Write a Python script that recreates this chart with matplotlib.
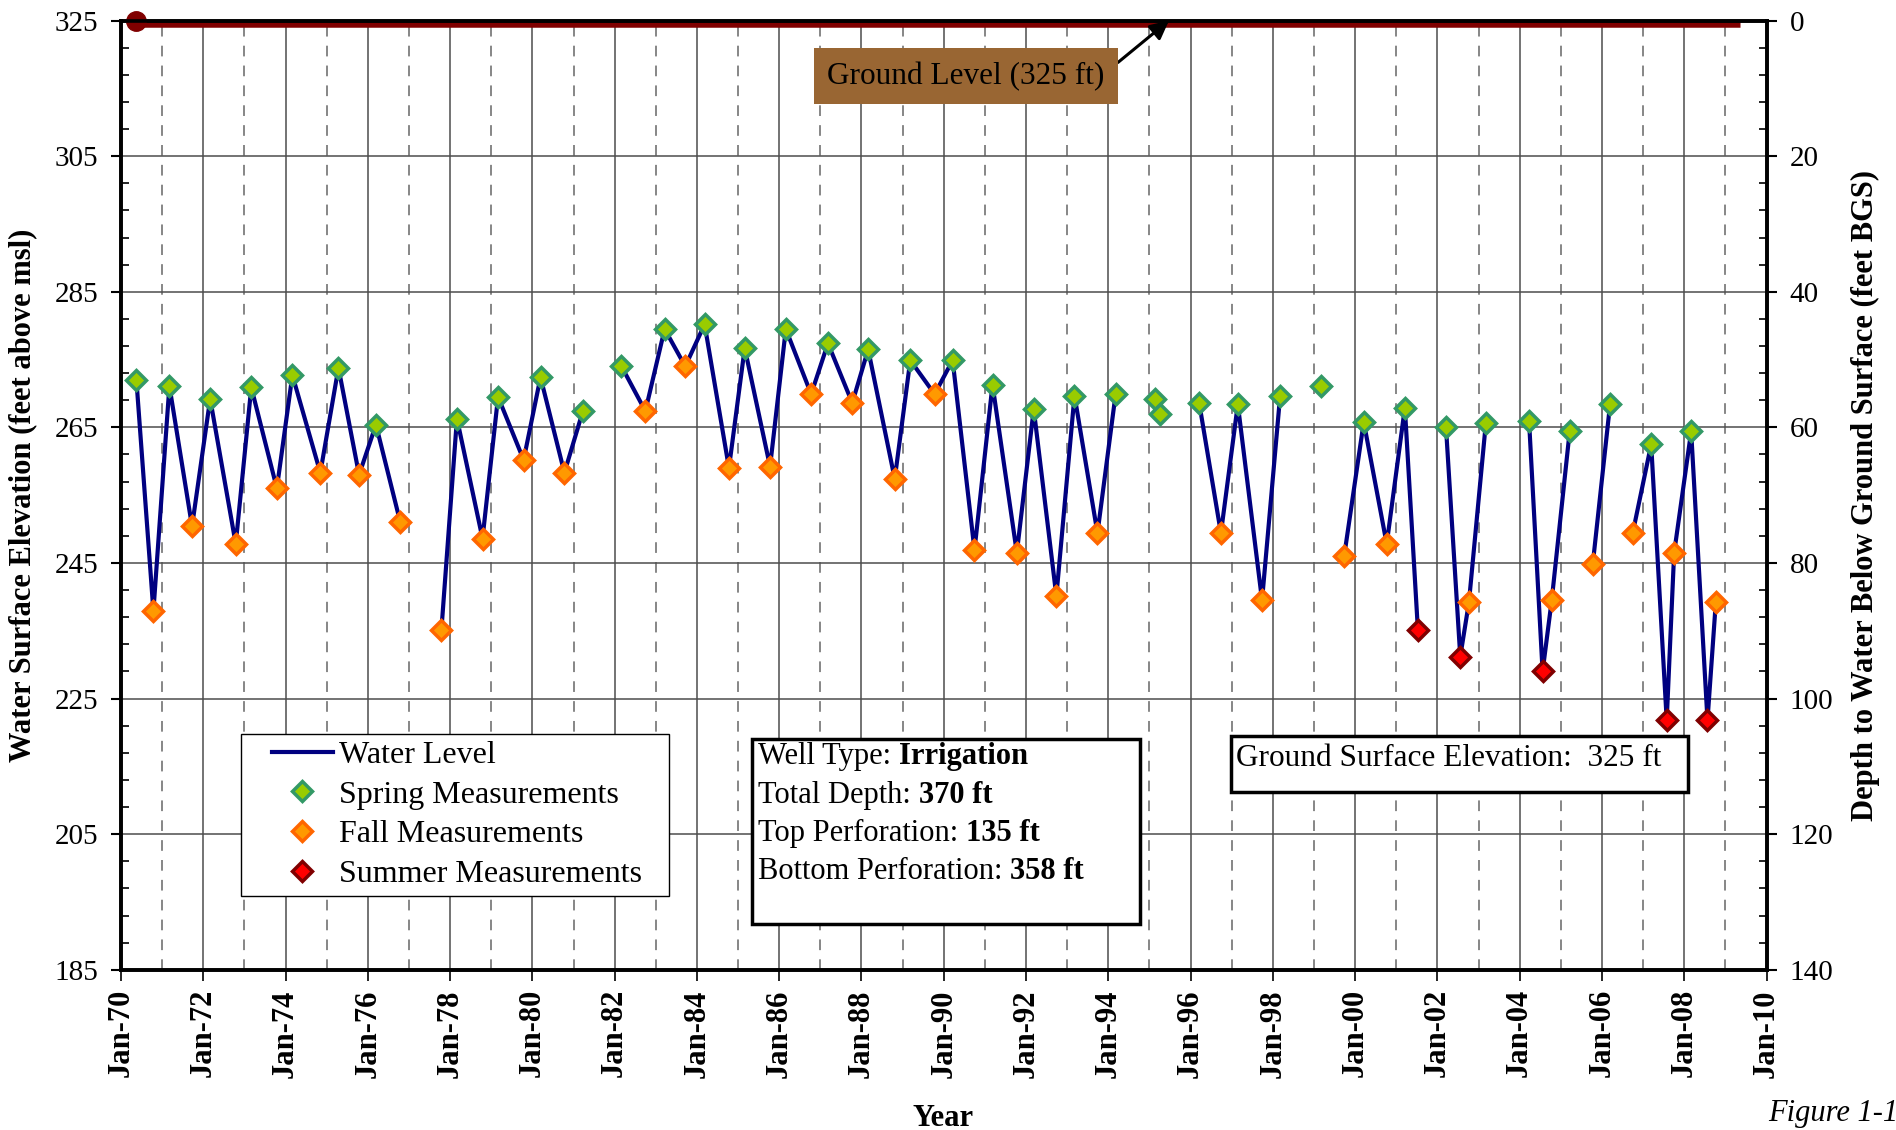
import numpy as np
import pandas as pd
import matplotlib
matplotlib.use('Agg')
import matplotlib.pyplot as plt
import matplotlib.dates as mdates
from matplotlib.patches import Rectangle
from matplotlib.ticker import MultipleLocator, FixedLocator

plt.rcParams['font.family'] = ['Liberation Serif', 'DejaVu Serif']

# readings: date, water surface elevation (ft msl), season
# S = spring, F = fall, U = summer; None = no reading (line breaks)
dates = [
    '1970-05-18', '1970-10-16', '1971-03-07', '1971-09-24', '1972-03-03', '1972-10-16',
    '1973-03-03', '1973-10-16', '1974-03-03', '1974-11-06', '1975-04-16', '1975-10-16',
    '1976-03-14', '1976-10-16', '1977-04-01',
    '1977-10-16', '1978-03-03', '1978-10-16', '1979-03-03', '1979-10-16', '1980-03-14',
    '1980-10-12', '1981-03-25', '1981-09-01',
    '1982-03-03', '1982-10-01', '1983-03-21', '1983-09-20', '1984-03-10', '1984-10-12',
    '1985-03-01', '1985-10-12', '1986-03-01', '1986-10-12', '1987-03-10', '1987-10-12',
    '1988-03-01', '1988-10-23', '1989-03-10', '1989-10-12', '1990-03-21', '1990-10-01',
    '1991-03-10', '1991-10-12', '1992-03-10', '1992-09-27', '1993-03-07', '1993-09-27',
    '1994-03-07', '1994-09-01',
    '1995-02-24', '1995-04-08', '1995-10-01',
    '1996-03-18', '1996-09-27', '1997-02-24', '1997-09-27', '1998-03-07', '1998-09-01',
    '1999-03-07', '1999-06-01',
    '1999-09-27', '2000-03-18', '2000-10-08', '2001-03-18', '2001-07-12', '2001-11-01',
    '2002-03-18', '2002-07-23', '2002-10-08', '2003-03-07', '2003-09-01',
    '2004-03-25', '2004-07-23', '2004-10-12', '2005-03-21', '2005-07-01',
    '2005-10-12', '2006-03-14', '2006-07-01',
    '2006-10-01', '2007-03-14', '2007-07-30', '2007-10-04', '2008-03-03', '2008-07-26',
    '2008-10-08',
]
elev = [
    272.0, 237.9, 271.1, 250.4, 269.2, 247.8,
    270.9, 256.0, 272.7, 258.3, 273.8, 258.0,
    265.4, 251.0, None,
    235.1, 266.3, 248.6, 269.5, 260.2, 272.4,
    258.3, 267.4, None,
    274.0, 267.4, 279.5, 274.0, 280.2, 259.0,
    276.7, 259.2, 279.5, 269.9, 277.4, 268.6,
    276.5, 257.4, 274.9, 269.9, 274.9, 246.9,
    271.3, 246.5, 267.7, 240.1, 269.7, 249.4,
    269.9, None,
    269.2, 267.0, None,
    268.6, 249.4, 268.4, 239.5, 269.7, None,
    271.1, None,
    246.1, 265.8, 247.8, 267.9, 235.1, None,
    265.1, 231.2, 239.2, 265.6, None,
    265.9, 229.0, 239.5, 264.5, None,
    244.9, 268.4, None,
    249.4, 262.5, 221.8, 246.5, 264.4, 221.8,
    239.2,
]
season = [
    'S', 'F', 'S', 'F', 'S', 'F',
    'S', 'F', 'S', 'F', 'S', 'F',
    'S', 'F', '',
    'F', 'S', 'F', 'S', 'F', 'S',
    'F', 'S', '',
    'S', 'F', 'S', 'F', 'S', 'F',
    'S', 'F', 'S', 'F', 'S', 'F',
    'S', 'F', 'S', 'F', 'S', 'F',
    'S', 'F', 'S', 'F', 'S', 'F',
    'S', '',
    'S', 'S', '',
    'S', 'F', 'S', 'F', 'S', '',
    'S', '',
    'F', 'S', 'F', 'S', 'U', '',
    'S', 'U', 'F', 'S', '',
    'S', 'U', 'F', 'S', '',
    'F', 'S', '',
    'F', 'S', 'U', 'F', 'S', 'U',
    'F',
]

ground_dates = ['1970-05-18', '2009-05-08']
ground_elev = [325, 325]

year_labels = ['Jan-70', 'Jan-72', 'Jan-74', 'Jan-76', 'Jan-78', 'Jan-80', 'Jan-82',
               'Jan-84', 'Jan-86', 'Jan-88', 'Jan-90', 'Jan-92', 'Jan-94', 'Jan-96',
               'Jan-98', 'Jan-00', 'Jan-02', 'Jan-04', 'Jan-06', 'Jan-08', 'Jan-10']

well_info = [('Well Type: ', 'Irrigation'),
             ('Total Depth: ', '370 ft'),
             ('Top Perforation: ', '135 ft'),
             ('Bottom Perforation: ', '358 ft')]

x = pd.to_datetime(dates)
y = np.array(elev, dtype=float)
season = np.array(season)

FS = 22
fig = plt.figure(figsize=(18.96, 11.30), dpi=100)
ax = fig.add_axes([0.0638, 0.1418, 0.8679, 0.840])

# ground level
gx = pd.to_datetime(ground_dates)
ax.plot(gx, ground_elev, color='#800000', lw=9, solid_capstyle='butt', zorder=2)
ax.plot(gx[:1], ground_elev[:1], 'o', color='#800000', ms=14, clip_on=False, zorder=6)

# water level and measurements
ax.plot(x, y, color='#000080', lw=3, label='Water Level', zorder=3)
styles = [('S', 'Spring Measurements', '#99CC00', '#339966'),
          ('F', 'Fall Measurements', '#FF9900', '#FF6600'),
          ('U', 'Summer Measurements', '#FF0000', '#800000')]
for key, lab, fc, ec in styles:
    m = season == key
    ax.plot(x[m], y[m], ls='none', marker='D', ms=10.5, mfc=fc, mec=ec, mew=2.5,
            label=lab, zorder=4)

# axes limits / ticks
ax.set_xlim(pd.Timestamp('1970-01-01'), pd.Timestamp('2010-01-01'))
ax.set_ylim(185, 325)
ticks = [mdates.date2num(pd.Timestamp(1970 + 2 * i, 1, 1)) for i in range(len(year_labels))]
odd = [mdates.date2num(pd.Timestamp(yr, 1, 1)) for yr in range(1971, 2010, 2)]
ax.xaxis.set_major_locator(FixedLocator(ticks))
ax.set_xticklabels(year_labels, rotation=90, fontsize=FS, fontweight='bold')
ax.xaxis.set_minor_locator(FixedLocator(odd))
ax.yaxis.set_major_locator(MultipleLocator(20, offset=5))
ax.yaxis.set_minor_locator(MultipleLocator(4, offset=1))
ax.tick_params(axis='y', which='major', direction='out', length=7.2, width=1.5,
               labelsize=FS - 1, pad=9)
ax.tick_params(axis='y', which='minor', direction='in', length=5.8, width=1.2)
ax.tick_params(axis='x', which='major', direction='out', length=8, width=1.2, pad=6)
ax.tick_params(axis='x', which='minor', length=0)

ax.grid(which='major', color='#4d4d4d', lw=1.1)
ax.xaxis.grid(which='minor', color='#666666', lw=1.1, ls=(0, (7, 6)))
for s in ax.spines.values():
    s.set_linewidth(2.6)

ax.set_ylabel('Water Surface Elevation (feet above msl)', fontsize=FS, fontweight='bold')
ax.yaxis.set_label_coords(-0.051, 0.5)

ax2 = ax.twinx()
ax2.set_ylim(140, 0)
ax2.yaxis.set_major_locator(MultipleLocator(20))
ax2.yaxis.set_minor_locator(MultipleLocator(4))
ax2.tick_params(axis='y', which='major', direction='out', length=7.2, width=1.5,
                labelsize=FS - 1, pad=9.5)
ax2.tick_params(axis='y', which='minor', direction='in', length=5.8, width=1.2)
for s in ax2.spines.values():
    s.set_linewidth(2.6)
ax2.set_ylabel('Depth to Water Below Ground Surface (feet BGS)', fontsize=FS,
               fontweight='bold')
ax2.yaxis.set_label_coords(1.051, 0.5)

# ground level callout
ax.annotate('Ground Level (325 ft)', xy=(pd.Timestamp('1995-06-24'), 325),
            xytext=(pd.Timestamp('1990-07-19'), 316.8), ha='center', va='center',
            fontsize=FS + 0.5, zorder=7,
            bbox=dict(boxstyle='square,pad=0.42', fc='#996633', ec='none'),
            arrowprops=dict(arrowstyle='-|>', color='black', lw=2.2, mutation_scale=28,
                            shrinkA=0, shrinkB=0, relpos=(1.0, 0.6)))

# legend with its own white frame
fig.add_artist(Rectangle((0.1271, 0.2071), 0.2257, 0.1434, transform=fig.transFigure,
                         fc='white', ec='black', lw=1.0, zorder=1))
h, l = ax.get_legend_handles_labels()
fig.legend(h, l, loc='upper left', bbox_to_anchor=(0.1435, 0.3445), frameon=False,
           borderpad=0, borderaxespad=0, fontsize=FS + 1, handlelength=1.9,
           handletextpad=0.2, labelspacing=0.32)

# well information box
fig.add_artist(Rectangle((0.3966, 0.1823), 0.2046, 0.1637, transform=fig.transFigure,
                         fc='white', ec='black', lw=2.5, zorder=1))
rows_y = [0.3301, 0.2956, 0.2628, 0.2292]
for (plain, bold), ry in zip(well_info, rows_y):
    t = fig.text(0.3998, ry, plain, fontsize=FS, va='center', zorder=3)
    fig.add_artist(plt.Annotation(bold, xy=(1, 0), xycoords=t, va='bottom', ha='left',
                                  fontsize=FS, fontweight='bold'))

# ground surface elevation box
fig.add_artist(Rectangle((0.6493, 0.2991), 0.2410, 0.0496, transform=fig.transFigure,
                         fc='white', ec='black', lw=2.5, zorder=1))
fig.text(0.6519, 0.3292, 'Ground Surface Elevation:  325 ft', fontsize=FS + 0.5,
         va='center')

fig.text(0.4974, 0.0106, 'Year', ha='center', va='center', fontsize=FS, fontweight='bold')
fig.text(0.9325, 0.015, 'Figure 1-16', va='center', fontsize=FS, style='italic')

fig.savefig('out.png', dpi=100)
